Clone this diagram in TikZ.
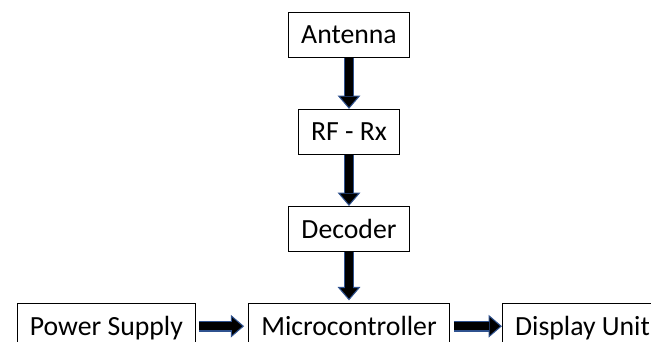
\documentclass[tikz,border=0pt]{standalone}
\usepackage{fontspec}
\setmainfont{Carlito}
\usetikzlibrary{positioning, arrows.meta}
\definecolor{arrowblue}{RGB}{47,82,143}

\begin{document}
\begin{tikzpicture}[node distance=38pt and 39pt,
    block/.style={draw, line width=0.8pt, inner xsep=9.5pt, minimum height=34pt,
                  text height=13.4pt, text depth=0pt,
                  font=\fontsize{20.8}{24}\selectfont},
    blockarrow/.style={draw=arrowblue, line width=8pt,
                  -{Triangle[length=10pt, width=17pt, line width=0.8pt, fill=black]},
                  postaction={draw=black, line width=6.4pt, -, shorten >=10pt}}]

    \useasboundingbox (0,0) rectangle (488.25pt,-256.5pt);

    \node[block] (antenna) at (261.75pt,-26.25pt) {Antenna};
    \node[block] (rf) [below=of antenna] {RF - Rx};
    \node[block] (decoder) [below=of rf] {Decoder};
    \node[block] (micro) [below=of decoder] {Microcontroller};
    \node[block] (power) [left=of micro] {Power Supply};
    \node[block] (display) [right=of micro] {Display Unit};

    \path
    (antenna) edge[blockarrow] (rf)
    (rf) edge[blockarrow] (decoder)
    (decoder) edge[blockarrow, shorten >=2pt] (micro)
    (power) edge[blockarrow, shorten <=2pt, shorten >=3pt] (micro)
    (micro) edge[blockarrow, shorten <=3pt] (display);
\end{tikzpicture}
\end{document}
